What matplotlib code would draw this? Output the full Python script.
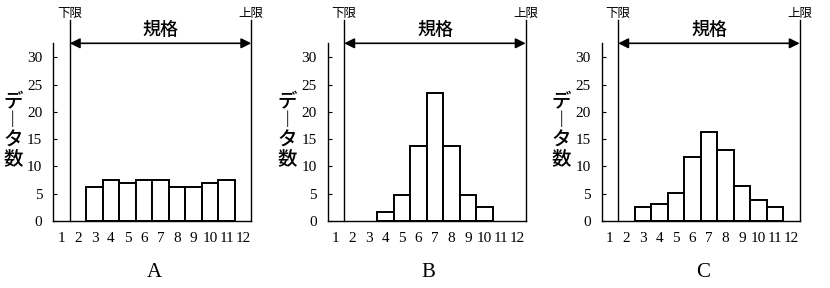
import matplotlib

matplotlib.use("Agg")
import matplotlib.pyplot as plt
from matplotlib.transforms import blended_transform_factory

plt.rcParams["font.family"] = ["Liberation Serif", "Noto Sans CJK JP", "DejaVu Sans"]

JP = ["Noto Sans CJK JP", "DejaVu Sans"]

# class numbers on the x axis and bar heights
classes = list(range(1, 13))
classes_a = [3, 4, 5, 6, 7, 8, 9, 10, 11]
counts_a = [6.3, 7.6, 7.0, 7.6, 7.6, 6.3, 6.3, 7.0, 7.6]
classes_b = [4, 5, 6, 7, 8, 9, 10]
counts_b = [1.6, 4.8, 13.8, 23.5, 13.8, 4.8, 2.6]
classes_c = [3, 4, 5, 6, 7, 8, 9, 10, 11]
counts_c = [2.5, 3.1, 5.2, 11.8, 16.4, 13.0, 6.4, 3.9, 2.6]
y_ticks = [0, 5, 10, 15, 20, 25, 30]
lower_limit = 1.5
upper_limit = 12.5
panels = [
    ("A", classes_a, counts_a),
    ("B", classes_b, counts_b),
    ("C", classes_c, counts_c),
]

W, H = 830, 288
fig = plt.figure(figsize=(W / 100, H / 100), dpi=100)

ax_w = 198 / W
ax_h = 177.7 / H
bottom = (H - 221) / H
lefts = [53.3, 327.7, 601.7]

for left_px, (name, xs, ys) in zip(lefts, panels):
    ax = fig.add_axes([left_px / W, bottom, ax_w, ax_h])
    ax.bar(xs, ys, width=1.0, facecolor="white", edgecolor="black", linewidth=1.4)
    ax.set_xlim(0.5, 12.5)
    ax.set_ylim(0, 32.6)
    ax.set_xticks(classes)
    ax.set_yticks(y_ticks)
    ax.tick_params(axis="x", length=0, pad=8, labelsize=11)
    ax.tick_params(axis="y", direction="in", length=3, width=0.8, pad=8, labelsize=11)
    for side in ("top", "right"):
        ax.spines[side].set_visible(False)
    ax.spines["left"].set_linewidth(1.0)
    ax.spines["bottom"].set_linewidth(1.0)

    trans = blended_transform_factory(ax.transData, ax.transAxes)
    # spec limit lines
    for xv, label in ((lower_limit, "下限"), (upper_limit, "上限")):
        ax.plot([xv, xv], [0, 1.13], color="black", lw=1.0, transform=trans, clip_on=False)
        ax.text(xv, 1.17, label, transform=trans, ha="center", va="center",
                fontsize=9, family=JP)

    ax.annotate("", xy=(lower_limit, 1.0), xytext=(upper_limit, 1.0),
                xycoords=trans, textcoords=trans,
                arrowprops=dict(arrowstyle="<|-|>", color="black", lw=1.2,
                                shrinkA=0, shrinkB=0, mutation_scale=15),
                annotation_clip=False)
    ax.text(7.0, 1.075, "規格", transform=trans, ha="center", va="center",
            fontsize=13, fontweight="medium", family=JP)

    ax.text(-0.204, 0.51, "デ\n︱\nタ\n数", transform=ax.transAxes, ha="center",
            va="center", fontsize=14, linespacing=1.0, fontweight="medium", family=JP)
    ax.text(0.51, -0.29, name, transform=ax.transAxes, ha="center", va="center",
            fontsize=15)

fig.savefig("out.png", dpi=100)
